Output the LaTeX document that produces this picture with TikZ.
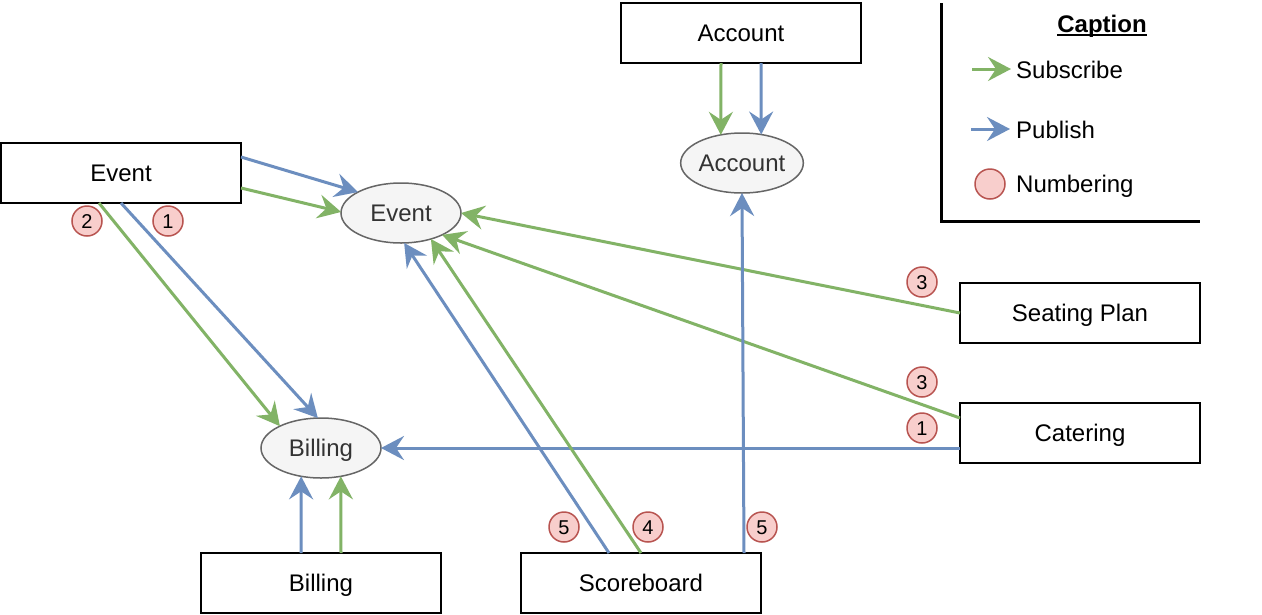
\documentclass[tikz,border=0pt]{standalone}
\usepackage{fontspec}
\setmainfont{Liberation Sans}
\usetikzlibrary{arrows.meta,calc,shapes.geometric}
\definecolor{gr}{HTML}{82B366}
\definecolor{bl}{HTML}{6C8EBF}
\definecolor{cfill}{HTML}{F8CECC}
\definecolor{cline}{HTML}{B85450}
\definecolor{efill}{HTML}{F5F5F5}
\definecolor{eline}{HTML}{666666}
\definecolor{etext}{HTML}{333333}
\begin{document}
\begin{tikzpicture}[x=1pt,y=-1pt,
 box/.style={draw=black, fill=white, line width=2.5pt, minimum width=240pt, minimum height=60pt, inner sep=0pt, outer sep=0pt, text height=17pt, text depth=0pt, font=\fontsize{24}{28}\selectfont},
 ell/.style={ellipse, draw=eline, fill=efill, line width=1.5pt, minimum width=120pt, minimum height=60pt, inner sep=0pt, outer sep=0pt, text=etext, text height=17pt, text depth=0pt, font=\fontsize{24}{28}\selectfont},
 num/.style={circle, draw=cline, fill=cfill, line width=1.5pt, minimum size=30pt, inner sep=0pt, text height=14pt, text depth=0pt, font=\fontsize{20}{22}\selectfont},
 lbl/.style={anchor=west, inner sep=0pt, text height=17pt, text depth=0pt, font=\fontsize{24}{28}\selectfont},
 tip/.style={-{Stealth[length=23pt,width=24pt,inset=8pt]}},
 sub/.style={tip, draw=gr, line width=3pt},
 pub/.style={tip, draw=bl, line width=3pt}
]
\useasboundingbox[fill=white] (0,0) rectangle (1262,614);

% boxes
\node[box] (accbox) at (741,33) {Account};
\node[box] (evbox) at (121,173) {Event};
\node[box] (spbox) at (1080,313) {Seating Plan};
\node[box] (catbox) at (1080,433) {Catering};
\node[box] (billbox) at (321,583) {Billing};
\node[box] (sbbox) at (641,583) {Scoreboard};

% ellipses
\node[ell] (accel) at (742,163) {Account};
\node[ell] (evel) at (401,213) {Event};
\node[ell] (billel) at (321,448) {Billing};

% connectors
\draw[pub] ([yshift=16pt]evbox.east) -- (evel.154);
\draw[sub] ([yshift=-15pt]evbox.east) -- (evel.179);
\draw[sub] ([xshift=-22pt]evbox.south) -- (billel.152);
\draw[pub] (evbox.south) -- (billel.96);
\draw[sub] (spbox.west) -- (evel.east);
\draw[sub] ([yshift=15pt]catbox.west) -- (evel.-28);
\draw[pub] ([yshift=-15pt]catbox.west) -- (billel.east);
\draw[pub] ([xshift=-32pt]sbbox.north) -- (evel.-84);
\draw[sub] (sbbox.north) -- (evel.-41);
\draw[pub] ([xshift=103pt]sbbox.north) -- (accel.south);
\draw[sub] ([xshift=-20pt]accbox.south) -- (accel.127);
\draw[pub] ([xshift=20pt]accbox.south) -- (accel.56);
\draw[pub] ([xshift=-20pt]billbox.north) -- (billel.235);
\draw[sub] ([xshift=20pt]billbox.north) -- (billel.-55);

% numbering
\node[num] (n2a) at (87,221) {2};
\node[num] (n1a) at (168,221) {1};
\node[num] (n3a) at (922,282) {3};
\node[num] (n3b) at (922,382) {3};
\node[num] (n1b) at (922,428) {1};
\node[num] (n5a) at (564,527) {5};
\node[num] (n4) at (648,527) {4};
\node[num] (n5b) at (762,527) {5};

% caption
\draw[line width=3pt] (941,3) -- (941,221) -- (1200,221);
\node[inner sep=0pt, text height=17pt, text depth=0pt, font=\fontsize{24}{28}\selectfont\bfseries] (cap) at (1102,24) {Caption};
\draw[line width=2.2pt] ([yshift=-2pt]cap.south west) -- ([yshift=-2pt]cap.south east);
\coordinate (s1) at (972,69);
\coordinate (s2) at (1011,69);
\draw[sub] (s1) -- (s2);
\node[lbl] (subt) at (1016,70) {Subscribe};
\coordinate (p1) at (971,129);
\coordinate (p2) at (1010,129);
\draw[pub] (p1) -- (p2);
\node[lbl] (pubt) at (1016,130) {Publish};
\node[num] (nleg) at (990,184) {};
\node[lbl] (numt) at (1016,184) {Numbering};
\end{tikzpicture}
\end{document}
